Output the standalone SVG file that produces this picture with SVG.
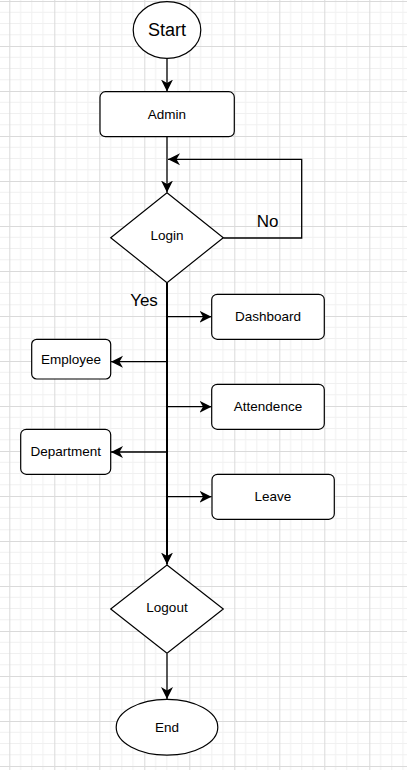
<svg xmlns="http://www.w3.org/2000/svg" width="407" height="770" viewBox="0 0 407 770">
<style>
.shape{fill:#fff;stroke:#000;stroke-width:1.2}
.lbl{font-family:"Liberation Sans",Arial,sans-serif;font-size:13.5px;fill:#000;text-anchor:middle;dominant-baseline:central}
.big{font-size:18px}
.edge{fill:none;stroke:#000;stroke-width:1.3}
.trunk{fill:none;stroke:#000;stroke-width:2}
</style>
<defs>
<pattern id="grid" x="9.3" y="1" width="45" height="45" patternUnits="userSpaceOnUse">
<path d="M11.25 0V45M22.5 0V45M33.75 0V45M0 11.25H45M0 22.5H45M0 33.75H45" stroke="#f0f0f0" stroke-width="1" fill="none"/>
<path d="M0.5 0V45M0 0.5H45" stroke="#dadada" stroke-width="1" fill="none"/>
</pattern>
<marker id="arr" markerUnits="userSpaceOnUse" markerWidth="13" markerHeight="13" refX="12" refY="6" orient="auto" viewBox="0 0 13 12">
<path d="M0,0 L12,6 L0,12 L3.5,6 Z" fill="#000"/>
</marker>
</defs>
<rect width="407" height="770" fill="#fff"/>
<rect width="407" height="770" fill="url(#grid)"/>

<g id="connectors">
<path class="edge" d="M167,58.5 V91.5" marker-end="url(#arr)"/>
<path class="edge" d="M167,137 V192.5" marker-end="url(#arr)"/>
<path class="edge" d="M223.3,238 H301.7 V159.3 H168" marker-end="url(#arr)"/>
<path class="trunk" d="M167,283 V564.5" marker-end="url(#arr)"/>
<path class="edge" d="M167,316.7 H211.5" marker-end="url(#arr)"/>
<path class="edge" d="M167,361.7 H111" marker-end="url(#arr)"/>
<path class="edge" d="M167,406.7 H211.5" marker-end="url(#arr)"/>
<path class="edge" d="M167,452 H111" marker-end="url(#arr)"/>
<path class="edge" d="M167,496.7 H211.5" marker-end="url(#arr)"/>
<path class="edge" d="M167,653.5 V699" marker-end="url(#arr)"/>
<text class="lbl big" x="267.5" y="221.5" style="font-size:17px">No</text>
<text class="lbl big" x="144" y="300" style="font-size:17px">Yes</text>
</g>

<g id="start">
<ellipse class="shape" cx="167" cy="30" rx="33.8" ry="28.3"/>
<text class="lbl big" x="167" y="30">Start</text>
</g>
<g id="admin">
<rect class="shape" x="100" y="91.7" width="134.3" height="45" rx="5.5"/>
<text class="lbl" x="167" y="114">Admin</text>
</g>
<g id="login">
<path class="shape" d="M167,192.7 L223.3,237.7 L167,282.7 L110.7,237.7 Z"/>
<text class="lbl" x="167" y="235.5">Login</text>
</g>
<g id="dashboard">
<rect class="shape" x="211.7" y="294.3" width="112.6" height="45" rx="5.5"/>
<text class="lbl" x="268" y="316.3">Dashboard</text>
</g>
<g id="employee">
<rect class="shape" x="31.7" y="339.3" width="79" height="39.7" rx="5"/>
<text class="lbl" x="71" y="359">Employee</text>
</g>
<g id="attendence">
<rect class="shape" x="211.7" y="384.3" width="112.6" height="45" rx="5.5"/>
<text class="lbl" x="268" y="406.3">Attendence</text>
</g>
<g id="department">
<rect class="shape" x="20.7" y="429.3" width="90" height="45" rx="5.5"/>
<text class="lbl" x="65.7" y="451.3">Department</text>
</g>
<g id="leave">
<rect class="shape" x="212" y="474.3" width="122.3" height="45" rx="5.5"/>
<text class="lbl" x="273" y="496.3">Leave</text>
</g>
<g id="logout">
<path class="shape" d="M167,565 L223.3,609 L167,653.3 L110.7,609 Z"/>
<text class="lbl" x="167" y="607">Logout</text>
</g>
<g id="end">
<ellipse class="shape" cx="167" cy="727.2" rx="50.8" ry="27.9"/>
<text class="lbl" x="167" y="727">End</text>
</g>
</svg>
